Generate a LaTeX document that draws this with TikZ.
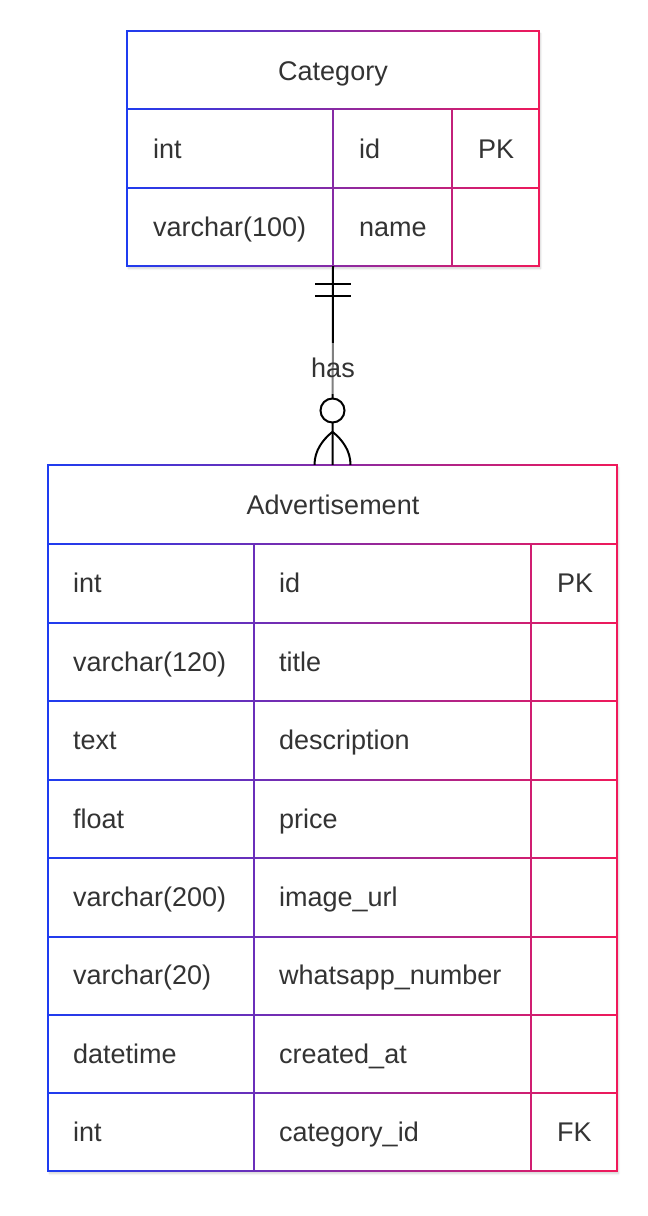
\documentclass[tikz,border=0pt]{standalone}
\usepackage{fontspec}
\setmainfont{Liberation Sans}
\usetikzlibrary{shadows.blur,calc}
\definecolor{erblue}{RGB}{30,60,240}
\definecolor{erred}{RGB}{240,25,90}
\definecolor{txt}{RGB}{51,51,51}
\tikzset{
  tablebox/.style={rectangle, fill=white, inner sep=0pt,
    blur shadow={shadow xshift=1.5pt, shadow yshift=-2.5pt, shadow blur steps=6, shadow opacity=18}},
  cell/.style={anchor=base west, inner sep=0pt, text=txt, font=\fontsize{27}{32}\selectfont},
  ttl/.style={anchor=base, inner sep=0pt, text=txt, font=\fontsize{27}{32}\selectfont},
  rel/.style={line width=2pt, black},
  gradfill/.style={left color=erblue, right color=erred},
}
\begin{document}
\begin{tikzpicture}[x=1pt,y=-1pt]
\useasboundingbox (0,0) rectangle (648,1216);
% table bodies
\node[tablebox, minimum width=412pt, minimum height=235pt] (cat) at (333,148.5) {};
\node[tablebox, minimum width=569pt, minimum height=706pt] (adv) at (332.5,818) {};
% Category grid (gradient stroke)
\begin{scope}
\clip (126.1,30.1) rectangle (539.9,31.9)
      (126.1,108.1) rectangle (539.9,109.9)
      (126.1,187.1) rectangle (539.9,188.9)
      (126.1,265.1) rectangle (539.9,266.9)
      (126.1,30.1) rectangle (127.9,266.9)
      (538.1,30.1) rectangle (539.9,266.9)
      (332.1,109) rectangle (333.9,266)
      (451.1,109) rectangle (452.9,266);
\shade[gradfill] (126,30) rectangle (540,267);
\end{scope}
% Advertisement grid (gradient stroke)
\begin{scope}
\clip (47.1,464.1) rectangle (617.9,465.9)
      (47.1,543.1) rectangle (617.9,544.9)
      (47.1,622.1) rectangle (617.9,623.9)
      (47.1,700.1) rectangle (617.9,701.9)
      (47.1,779.1) rectangle (617.9,780.9)
      (47.1,857.1) rectangle (617.9,858.9)
      (47.1,936.1) rectangle (617.9,937.9)
      (47.1,1014.1) rectangle (617.9,1015.9)
      (47.1,1092.1) rectangle (617.9,1093.9)
      (47.1,1170.1) rectangle (617.9,1171.9)
      (47.1,464.1) rectangle (48.9,1171.9)
      (616.1,464.1) rectangle (617.9,1171.9)
      (253.1,544) rectangle (254.9,1171)
      (530.1,544) rectangle (531.9,1171);
\shade[gradfill] (47,464) rectangle (618,1172);
\end{scope}
% Category texts
\node[ttl] (cat-t) at (333,80) {Category};
\node[cell] (cat-1a) at (153,158) {int};
\node[cell] (cat-1b) at (359,158) {id};
\node[cell] (cat-1c) at (478,158) {PK};
\node[cell] (cat-2a) at (153,236.5) {varchar(100)};
\node[cell] (cat-2b) at (359,236.5) {name};
% Advertisement texts
\node[ttl] (adv-t) at (333,514.5) {Advertisement};
\node[cell] (adv-1a) at (73,592.7) {int};
\node[cell] (adv-1b) at (279,592.7) {id};
\node[cell] (adv-1c) at (557,592.7) {PK};
\node[cell] (adv-2a) at (73,671.2) {varchar(120)};
\node[cell] (adv-2b) at (279,671.2) {title};
\node[cell] (adv-3a) at (73,749.6) {text};
\node[cell] (adv-3b) at (279,749.6) {description};
\node[cell] (adv-4a) at (73,828) {float};
\node[cell] (adv-4b) at (279,828) {price};
\node[cell] (adv-5a) at (73,906.5) {varchar(200)};
\node[cell] (adv-5b) at (279,906.5) {image\_url};
\node[cell] (adv-6a) at (73,984.9) {varchar(20)};
\node[cell] (adv-6b) at (279,984.9) {whatsapp\_number};
\node[cell] (adv-7a) at (73,1063.3) {datetime};
\node[cell] (adv-7b) at (279,1063.3) {created\_at};
\node[cell] (adv-8a) at (73,1141.8) {int};
\node[cell] (adv-8b) at (279,1141.8) {category\_id};
\node[cell] (adv-8c) at (557,1141.8) {FK};
% relationship
\draw[rel] (cat.south) -- (adv.north);
\draw[rel] ($(cat.south)+(-18,18)$) -- ($(cat.south)+(18,18)$);
\draw[rel] ($(cat.south)+(-18,30)$) -- ($(cat.south)+(18,30)$);
\draw[rel, fill=white] ($(adv.north)+(0,-54.3)$) circle[radius=12pt];
\draw[rel] ($(adv.north)+(0,-33)$) .. controls +(-10,8) and +(0,-14) .. ($(adv.north)+(-18,0)$);
\draw[rel] ($(adv.north)+(0,-33)$) .. controls +(10,8) and +(0,-14) .. ($(adv.north)+(18,0)$);
\node[fill=white, fill opacity=0.5, text opacity=1, text=txt, font=\fontsize{27}{32}\selectfont,
      inner xsep=2pt, inner ysep=0pt, minimum height=51pt] (has) at (333,368) {has};
\end{tikzpicture}
\end{document}
